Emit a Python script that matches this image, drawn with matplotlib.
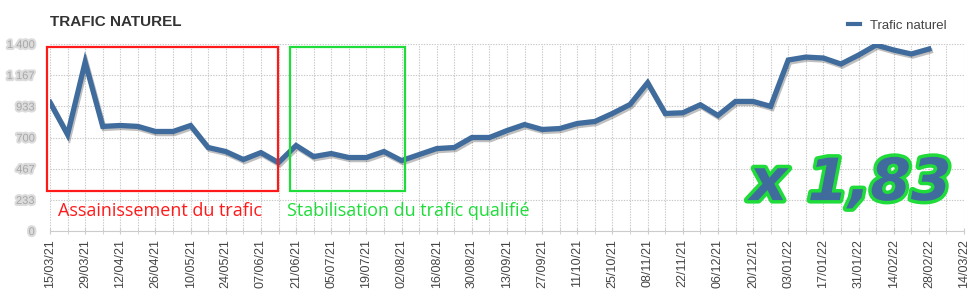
import matplotlib
matplotlib.use("Agg")
import matplotlib.pyplot as plt
import matplotlib.patheffects as pe
from matplotlib.patches import Rectangle
import numpy as np

# weekly natural traffic, 15/03/21 -> 28/02/22
traffic = [963, 722, 1265, 783, 790, 783, 745, 745, 790, 625,
           595, 535, 587, 512, 640, 557, 580, 550, 550, 595,
           527, 572, 617, 625, 700, 700, 752, 797, 760, 767,
           805, 820, 880, 947, 1110, 880, 885, 945, 865, 970,
           970, 933, 1280, 1302, 1295, 1250, 1317, 1392, 1355, 1325,
           1362]

date_labels = ["15/03/21", "29/03/21", "12/04/21", "26/04/21", "10/05/21", "24/05/21",
               "07/06/21", "21/06/21", "05/07/21", "19/07/21", "02/08/21", "16/08/21",
               "30/08/21", "13/09/21", "27/09/21", "11/10/21", "25/10/21", "08/11/21",
               "22/11/21", "06/12/21", "20/12/21", "03/01/22", "17/01/22", "31/01/22",
               "14/02/22", "28/02/22", "14/03/22"]

y_ticks = [0, 233, 467, 700, 933, 1167, 1400]
y_labels = ["0", "233", "467", "700", "933", "1 167", "1 400"]

LINE = "#3f6c9c"

fig = plt.figure(figsize=(9.8, 3.01), dpi=100)
ax = fig.add_axes([50 / 980, 70 / 301, 914 / 980, 187 / 301])

weeks = np.arange(len(traffic))
ax.plot(weeks, traffic, color=LINE, lw=3.8, solid_joinstyle="miter",
        path_effects=[pe.SimpleLineShadow(offset=(1, -1.5), shadow_color="#000000", alpha=0.25),
                      pe.Normal()], zorder=5, label="Trafic naturel")

ax.set_xlim(0, 52)
ax.set_ylim(0, 1400)
ax.set_xticks(np.arange(0, 53, 2))
ax.set_xticklabels(date_labels, rotation=90, fontsize=9, color="#444444",
                   family="Liberation Sans")
ax.set_xticks(np.arange(0, 53, 1), minor=True)
ax.set_yticks(y_ticks)
ax.set_yticklabels(y_labels, fontsize=8, color="#a8a8a8", family="Liberation Sans",
                   path_effects=[pe.withStroke(linewidth=3, foreground="#dcdcdc")])
ax.tick_params(axis="y", length=0, pad=11)
ax.tick_params(axis="x", which="both", length=4, color="#cccccc", pad=4, direction="inout")

ax.grid(True, which="both", axis="x", color="#c8c8c8", ls=(0, (1.2, 1.2)), lw=0.8)
ax.grid(True, which="major", axis="y", color="#c8c8c8", ls=(0, (1.2, 1.2)), lw=0.8)
for s in ["top", "right", "left"]:
    ax.spines[s].set_visible(False)
ax.spines["bottom"].set_color("#cccccc")

# annotation boxes
ax.add_patch(Rectangle((-0.17, 300), 13.14, 1078, fill=False, ec="#ff1a1a", lw=1.6,
                       clip_on=False, zorder=6))
ax.add_patch(Rectangle((13.65, 300), 6.54, 1078, fill=False, ec="#1fdc3a", lw=1.6,
                       clip_on=False, zorder=6))
ax.text(0.45, 150, "Assainissement du trafic", color="#ff1a1a", fontsize=13,
        family="Open Sans", va="center", ha="left", zorder=6)
ax.text(13.5, 150, "Stabilisation du trafic qualifié", color="#1fdc3a", fontsize=13,
        family="Open Sans", va="center", ha="left", zorder=6)

fig.text(0.868, 0.39, "x 1,83", fontsize=42, fontweight="heavy", style="italic",
         color=LINE, ha="center", va="center", family="DejaVu Sans",
         path_effects=[pe.withStroke(linewidth=5, foreground="#1fdc3a")])

fig.text(50 / 980, 1 - 22 / 301, "TRAFIC NATUREL", fontsize=11, fontweight="bold",
         color="#333333", va="center", ha="left", family="Liberation Sans")

leg = ax.legend(loc="upper right", bbox_to_anchor=(958 / 980, 1 - 8 / 301),
                bbox_transform=fig.transFigure, frameon=False,
                handlelength=0.9, handletextpad=0.7,
                prop={"family": "Liberation Sans", "size": 9.5})
for t in leg.get_texts():
    t.set_color("#444444")
for h in leg.get_lines():
    h.set_linewidth(3)
    h.set_path_effects([])

fig.savefig("out.png", dpi=100)
